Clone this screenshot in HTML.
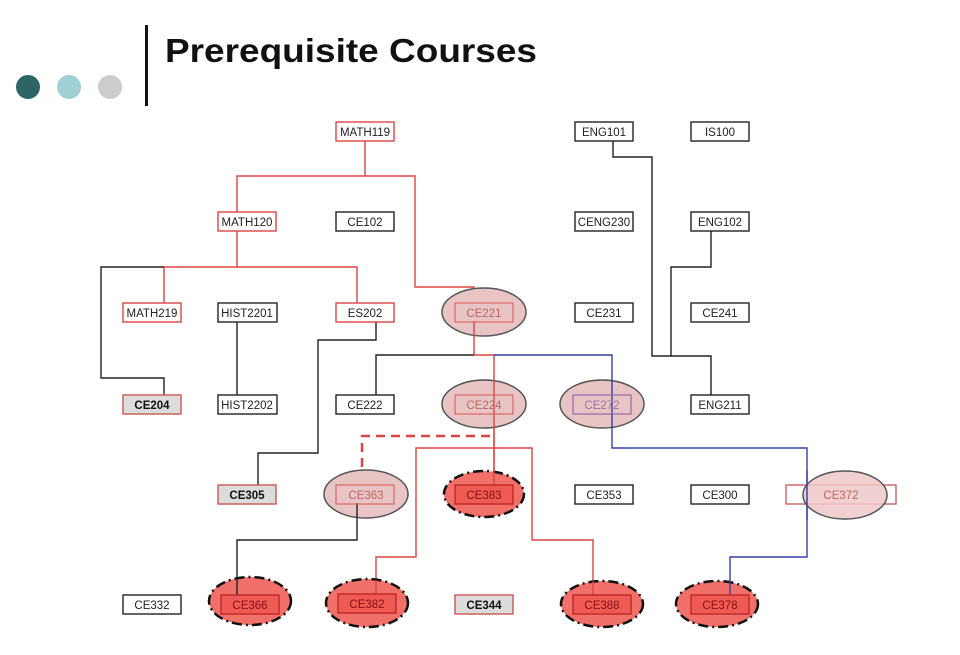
<!DOCTYPE html>
<html><head><meta charset="utf-8"><style>
html,body{margin:0;padding:0;background:#fff;}
svg{display:block;}
text{font-family:"Liberation Sans",Arial,sans-serif;}
</style></head><body>
<svg width="960" height="655" viewBox="0 0 960 655" xmlns="http://www.w3.org/2000/svg">
<circle cx="28" cy="87" r="12" fill="#2d6466"/>
<circle cx="69" cy="87" r="12" fill="#9fd0d3"/>
<circle cx="110" cy="87" r="12" fill="#cccccc"/>
<rect x="145" y="25" width="3" height="81" fill="#111"/>
<text x="165" y="62" font-size="33" font-weight="bold" fill="#111" textLength="372" lengthAdjust="spacingAndGlyphs">Prerequisite Courses</text>

<g fill="none" stroke-width="1.4">
<polyline stroke="#d44" points="365,141 365,176"/>
<polyline stroke="#d44" points="237,212 237,176 415,176 415,287 474,287 474,302"/>
<polyline stroke="#d44" points="237,231 237,267"/>
<polyline stroke="#d44" points="164,303 164,267 357,267 357,303"/>
<polyline stroke="#222" points="164,267 101,267 101,378 164,378 164,395"/>
<polyline stroke="#222" points="237,321 237,395"/>
<polyline stroke="#222" points="376,321 376,340 318,340 318,453 258,453 258,485"/>
<polyline stroke="#d44" points="474,321 474,355 494,355 494,485"/>
<polyline stroke="#222" points="474,355 376,355 376,395"/>
<polyline stroke="#3340a8" points="494,355 612,355 612,448 807,448 807,557 730,557 730,595"/>
<polyline stroke="#d44" stroke-width="2.5" stroke-dasharray="9,6" points="490,436 362,436 362,470"/>
<polyline stroke="#d44" points="376,595 376,557 416,557 416,448 532,448 532,540 593,540 593,595"/>
<polyline stroke="#222" points="357,503 357,540 237,540 237,595"/>
<polyline stroke="#222" points="613,141 613,157 652,157 652,356 711,356 711,395"/>
<polyline stroke="#222" points="711,231 711,267 671,267 671,356"/>
</g>

<g stroke="#555" stroke-width="1.5" fill="#e8c4c4">
<ellipse cx="484" cy="312" rx="42" ry="24"/>
<ellipse cx="484" cy="404" rx="42" ry="24"/>
<ellipse cx="602" cy="404" rx="42" ry="24"/>
<ellipse cx="366" cy="494" rx="42" ry="24"/>
</g>
<rect x="786" y="485" width="110" height="19" fill="none" stroke="#c55" stroke-width="1.3"/>
<ellipse cx="845" cy="495" rx="42" ry="24" fill="#edc8c8" fill-opacity="0.85" stroke="#555" stroke-width="1.5"/>
<g stroke="#111" stroke-width="2.5" stroke-dasharray="10,4,2,4" fill="#f2706a">
<ellipse cx="484" cy="494" rx="40" ry="23"/>
<ellipse cx="250" cy="601" rx="41" ry="24"/>
<ellipse cx="367" cy="603" rx="41" ry="24"/>
<ellipse cx="602" cy="604" rx="41" ry="23"/>
<ellipse cx="717" cy="604" rx="41" ry="23"/>
</g>
<g fill="none" stroke-width="1.4">
<polyline stroke="#d44" points="474,321 474,336"/>
<polyline stroke="#d44" points="494,380 494,485"/>
<polyline stroke="#3340a8" points="612,380 612,428"/>
<polyline stroke="#3340a8" points="807,470 807,520"/>
<polyline stroke="#222" points="357,503 357,518"/>
<polyline stroke="#222" points="237,578 237,595"/>
<polyline stroke="#d44" points="376,580 376,595"/>
<polyline stroke="#d44" points="593,581 593,595"/>
<polyline stroke="#3340a8" points="730,581 730,595"/>
</g>

<g font-size="11.5" text-anchor="middle">
<g stroke="#222" stroke-width="1.4" fill="#fff">
<rect x="575" y="122" width="58" height="19"/>
<rect x="691" y="122" width="58" height="19"/>
<rect x="336" y="212" width="58" height="19"/>
<rect x="575" y="212" width="58" height="19"/>
<rect x="691" y="212" width="58" height="19"/>
<rect x="218" y="303" width="59" height="19"/>
<rect x="575" y="303" width="58" height="19"/>
<rect x="691" y="303" width="58" height="19"/>
<rect x="218" y="395" width="59" height="19"/>
<rect x="336" y="395" width="58" height="19"/>
<rect x="691" y="395" width="58" height="19"/>
<rect x="575" y="485" width="58" height="19"/>
<rect x="691" y="485" width="58" height="19"/>
<rect x="123" y="595" width="58" height="19"/>
</g>
<g stroke="#d44" stroke-width="1.4" fill="#fff">
<rect x="336" y="122" width="58" height="19"/>
<rect x="218" y="212" width="58" height="19"/>
<rect x="123" y="303" width="58" height="19"/>
<rect x="336" y="303" width="58" height="19"/>
</g>
<g stroke="#c55" stroke-width="1.4" fill="#dcdcdc">
<rect x="123" y="395" width="58" height="19"/>
<rect x="218" y="485" width="58" height="19"/>
<rect x="455" y="595" width="58" height="19"/>
</g>
<g stroke="#d66" stroke-width="1.2" fill="none">
<rect x="455" y="303" width="58" height="19"/>
<rect x="455" y="395" width="58" height="19"/>
<rect x="336" y="485" width="58" height="19"/>
</g>
<rect x="573" y="395" width="58" height="19" stroke="#9966aa" stroke-width="1.2" fill="none"/>
<g stroke="#b22" stroke-width="1.3" fill="#ee5a55">
<rect x="455" y="485" width="58" height="19"/>
<rect x="221" y="595" width="58" height="19"/>
<rect x="338" y="594" width="58" height="19"/>
<rect x="573" y="595" width="58" height="19"/>
<rect x="691" y="595" width="58" height="19"/>
</g>

<g fill="#222">
<text x="365" y="136">MATH119</text>
<text x="604" y="136">ENG101</text>
<text x="720" y="136">IS100</text>
<text x="247" y="226">MATH120</text>
<text x="365" y="226">CE102</text>
<text x="604" y="226">CENG230</text>
<text x="720" y="226">ENG102</text>
<text x="152" y="317">MATH219</text>
<text x="247" y="317">HIST2201</text>
<text x="365" y="317">ES202</text>
<text x="604" y="317">CE231</text>
<text x="720" y="317">CE241</text>
<text x="247" y="409">HIST2202</text>
<text x="365" y="409">CE222</text>
<text x="720" y="409">ENG211</text>
<text x="604" y="499">CE353</text>
<text x="720" y="499">CE300</text>
<text x="152" y="609">CE332</text>
</g>
<g fill="#111" font-weight="bold">
<text x="152" y="409">CE204</text>
<text x="247" y="499">CE305</text>
<text x="484" y="609">CE344</text>
</g>
<g fill="#b66">
<text x="484" y="317">CE221</text>
<text x="484" y="409">CE224</text>
<text x="366" y="499">CE363</text>
<text x="841" y="499">CE372</text>
</g>
<text x="602" y="409" fill="#a070a8">CE272</text>
<g fill="#8a0f0f">
<text x="484" y="499">CE383</text>
<text x="250" y="609">CE366</text>
<text x="367" y="608">CE382</text>
<text x="602" y="609">CE388</text>
<text x="720" y="609">CE378</text>
</g>
</g>
</svg>
</body></html>
